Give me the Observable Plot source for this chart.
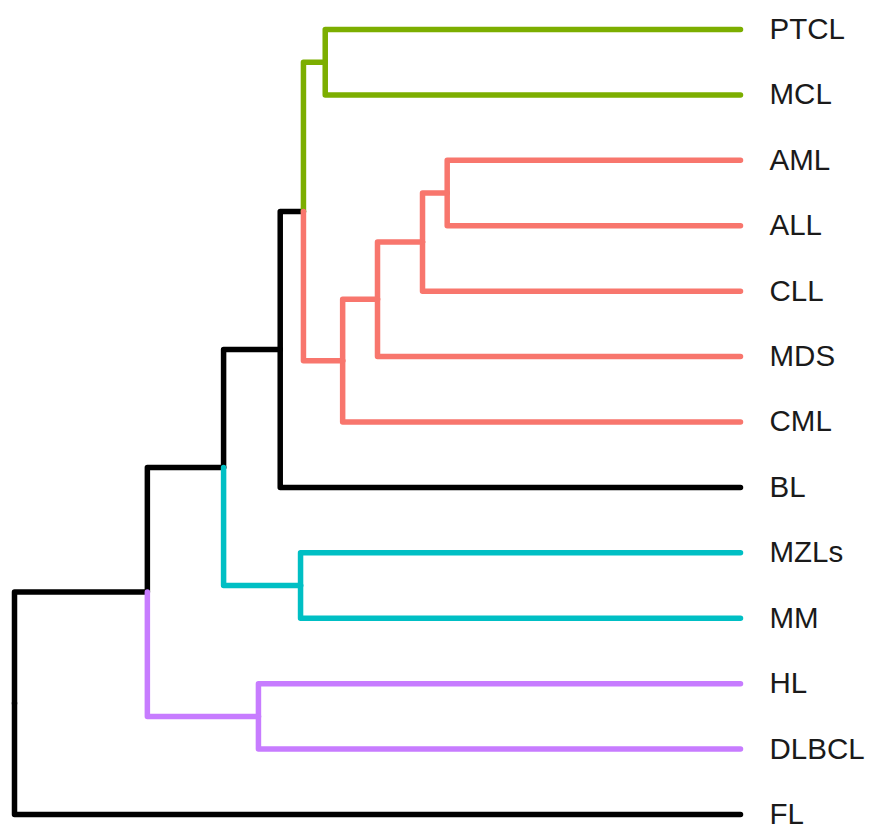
<!DOCTYPE html>
<html>
<head>
<meta charset="utf-8">
<script src="https://cdn.jsdelivr.net/npm/d3@7"></script>
<script src="https://cdn.jsdelivr.net/npm/@observablehq/plot@0.6"></script>
<style>
  html, body { margin: 0; padding: 0; background: #ffffff; }
  #chart svg { display: block; }
</style>
</head>
<body>
<div id="chart"></div>
<script>
// Leaves in display order (top to bottom)
const leaves = ["PTCL", "MCL", "AML", "ALL", "CLL", "MDS", "CML", "BL", "MZLs", "MM", "HL", "DLBCL", "FL"];
// Cluster id of each leaf (0 = not in a coloured cluster)
const leafCluster = [1, 1, 2, 2, 2, 2, 2, 0, 3, 3, 4, 4, 0];
// hclust-style merge table: negative = leaf (1-based), positive = earlier merge row
const mergeLeft  = [-3, 1, 2, 3, -1, 5, -9, 6, -11, 8, 10, 11];
const mergeRight = [-4, -5, -6, -7, -2, 4, -10, -8, -12, 7, 9, -13];
const mergeHeight = [0.404, 0.438, 0.500, 0.548, 0.572, 0.602, 0.606, 0.634, 0.664, 0.712, 0.817, 1.000];
// Branch colours per cluster id
const clusterColors = ["#000000", "#7CAE00", "#F8766D", "#00BFC4", "#C77CFF"];

// Resolve a node reference to {h, y, cluster}
const nodes = [];
function nodeInfo(ref) {
  if (ref < 0) {
    const i = -ref - 1;
    return {h: 0, y: i, cluster: leafCluster[i]};
  }
  return nodes[ref - 1];
}
mergeLeft.forEach((l, k) => {
  const a = nodeInfo(l), b = nodeInfo(mergeRight[k]);
  nodes.push({
    h: mergeHeight[k],
    y: (a.y + b.y) / 2,
    cluster: a.cluster === b.cluster ? a.cluster : 0,
    children: [a, b]
  });
});

// One elbow path per parent-child link
const elbows = [];
nodes.forEach((n, k) => {
  n.children.forEach((c, j) => {
    const id = `${k}-${j}`;
    const color = clusterColors[c.cluster];
    elbows.push({id, color, h: n.h, y: n.y});
    elbows.push({id, color, h: n.h, y: c.y});
    elbows.push({id, color, h: c.h, y: c.y});
  });
});
// Black links first so coloured branches sit on top
const order = c => (c === "#000000" ? 0 : 1);
elbows.sort((a, b) => order(a.color) - order(b.color));

const labels = leaves.map((name, i) => ({name, y: i}));

const chart = Plot.plot({
  width: 869,
  height: 824,
  marginLeft: 14,
  marginRight: 129,
  marginTop: 29,
  marginBottom: 10,
  style: {background: "#ffffff", fontFamily: "Liberation Sans, Arial, sans-serif"},
  x: {domain: [1, 0], axis: null},
  y: {domain: [0, leaves.length - 1], reverse: true, axis: null},
  marks: [
    Plot.line(elbows, {
      x: "h", y: "y", z: "id", stroke: "color",
      strokeWidth: 5.5, strokeLinecap: "round", strokeLinejoin: "round"
    }),
    Plot.text(labels, {
      x: 0, y: "y", text: "name", dx: 29, textAnchor: "start",
      fontSize: 29.5, fill: "#1a1a1a"
    })
  ]
});
document.getElementById("chart").appendChild(chart);
</script>
</body>
</html>
